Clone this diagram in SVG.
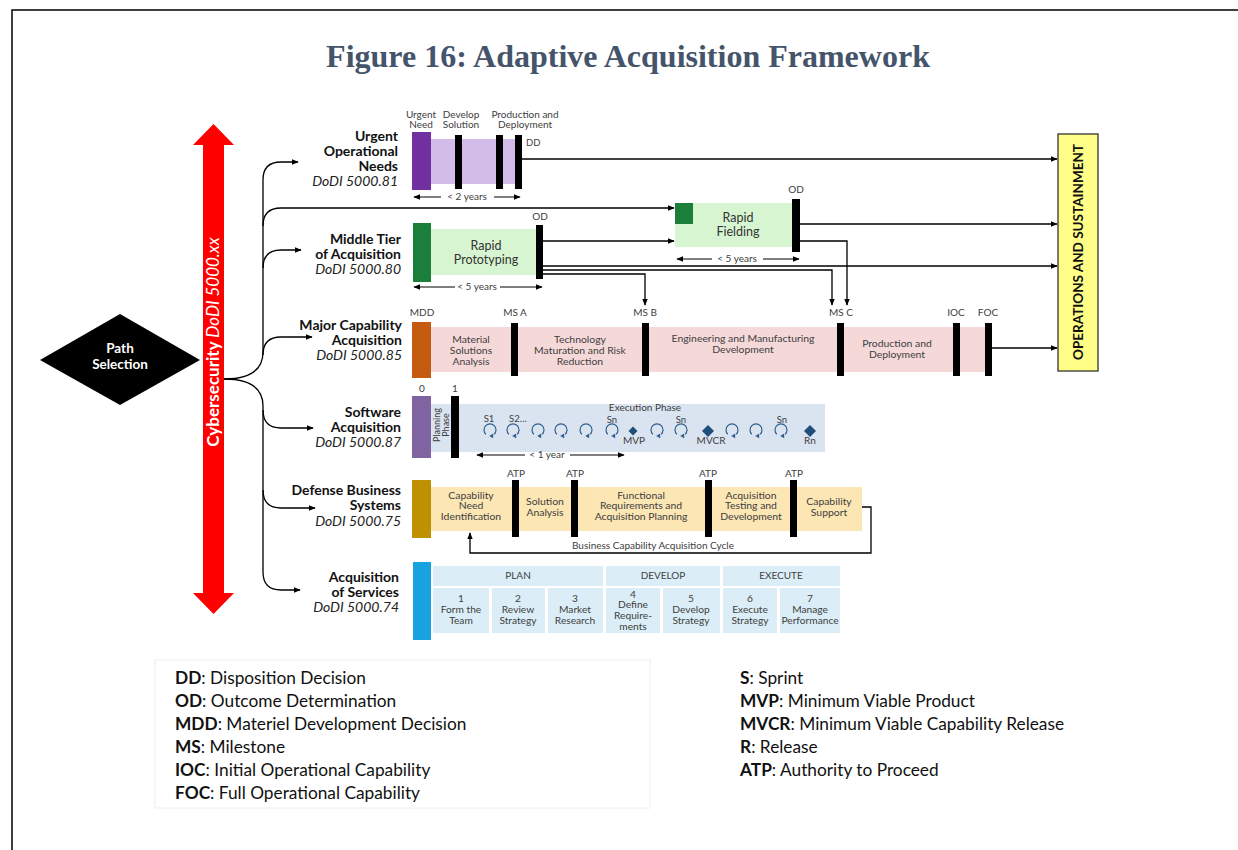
<svg xmlns="http://www.w3.org/2000/svg" width="1238" height="850" viewBox="0 0 1238 850">
<defs>
<style>
text{font-family:Lato,'Liberation Sans',sans-serif}
.lbl{font-size:14px;font-weight:bold;text-anchor:end;fill:#111}
.doc{font-style:italic;font-weight:normal;fill:#222}
.ph{font-size:10.4px;fill:#404040;text-anchor:middle}
.sm{font-size:10px;fill:#404040;text-anchor:middle}
.ce{font-size:10.2px;fill:#404040;text-anchor:middle}
.bar{fill:#000}
.ln{fill:none;stroke:#000;stroke-width:1.3}
.thin{fill:none;stroke:#000;stroke-width:1}
.cell{fill:#DBEEF7}
.leg{font-size:17.3px;fill:#111}
.spr{fill:none;stroke:#2F5F8F;stroke-width:1.2}
.dia{fill:#1F4E79}
</style>
<marker id="ah" viewBox="0 0 10 10" refX="9" refY="5" markerWidth="7" markerHeight="7" orient="auto-start-reverse" markerUnits="userSpaceOnUse">
<path d="M0,1 L10,5 L0,9 Z" fill="#000"/>
</marker>
<g id="sprint">
<path class="spr" d="M-4.2,4.2 A6,6 0 1 1 4.2,4.2"/>
<path d="M3.2,3.6 L3.2,8.2 L-0.8,5.9 Z" fill="#2F5F8F"/>
</g>
</defs>

<rect x="12" y="10" width="1240" height="860" fill="#fff" stroke="#000" stroke-width="1.5"/>

<text x="628" y="67" text-anchor="middle" style="font-family:'Liberation Serif',serif;font-size:32px;font-weight:bold;fill:#44546A">Figure 16: Adaptive Acquisition Framework</text>

<g id="cybersecurity">
<polygon points="213.5,124 234,145 224,145 224,593 234,593 213.5,614 193,593 203,593 203,145 193,145" fill="#F00"/>
<text transform="translate(219,342) rotate(-90)" text-anchor="middle" style="font-size:17px;fill:#fff"><tspan font-weight="bold">Cybersecurity </tspan><tspan font-style="italic">DoDI 5000.xx</tspan></text>
</g>

<g id="path-selection">
<polygon points="40,360 120,314 200,360 120,405" fill="#000"/>
<text x="120" y="353" text-anchor="middle" style="font-size:13.5px;font-weight:bold;fill:#fff">Path</text>
<text x="120" y="369" text-anchor="middle" style="font-size:13.5px;font-weight:bold;fill:#fff">Selection</text>
</g>

<g id="ops">
<rect x="1058" y="134" width="40" height="237" fill="#FFFF88" stroke="#333" stroke-width="1.3"/>
<text transform="translate(1083,252) rotate(-90)" text-anchor="middle" style="font-size:13.5px;font-weight:bold;fill:#111">OPERATIONS AND SUSTAINMENT</text>
</g>

<g id="urgent">
<text class="lbl" x="398" y="141">Urgent</text>
<text class="lbl" x="398" y="156">Operational</text>
<text class="lbl" x="398" y="171">Needs</text>
<text class="lbl doc" x="398" y="186">DoDI 5000.81</text>
<text class="sm" x="421" y="118">Urgent</text>
<text class="sm" x="421" y="128">Need</text>
<text class="sm" x="461" y="118">Develop</text>
<text class="sm" x="461" y="128">Solution</text>
<text class="sm" x="525" y="118">Production and</text>
<text class="sm" x="525" y="128">Deployment</text>
<rect x="431" y="139" width="88" height="45" fill="#D3BDE8"/>
<rect x="412" y="132" width="19" height="58" fill="#7030A0"/>
<rect class="bar" x="455" y="135" width="7" height="54"/>
<rect class="bar" x="496" y="135" width="7" height="54"/>
<rect class="bar" x="515" y="135" width="7" height="54"/>
<text x="526" y="146" style="font-size:9.5px;fill:#404040">DD</text>
<line class="thin" x1="414" y1="197" x2="441" y2="197" marker-start="url(#ah)"/>
<line class="thin" x1="494" y1="197" x2="520" y2="197" marker-end="url(#ah)"/>
<text class="sm" x="467" y="200">&lt; 2 years</text>
</g>

<g id="middle-tier">
<text class="lbl" x="401" y="244">Middle Tier</text>
<text class="lbl" x="401" y="259">of Acquisition</text>
<text class="lbl doc" x="401" y="274">DoDI 5000.80</text>
<rect x="431" y="229" width="106" height="46" fill="#D8F5D2"/>
<rect x="413" y="223" width="18" height="59" fill="#1B7F3B"/>
<rect class="bar" x="536" y="225" width="7" height="54"/>
<text x="540" y="220" class="sm">OD</text>
<text x="486" y="250" text-anchor="middle" style="font-size:12.5px;fill:#333">Rapid</text>
<text x="486" y="264" text-anchor="middle" style="font-size:12.5px;fill:#333">Prototyping</text>
<line class="thin" x1="414" y1="287" x2="455" y2="287" marker-start="url(#ah)"/>
<line class="thin" x1="500" y1="287" x2="542" y2="287" marker-end="url(#ah)"/>
<text class="sm" x="477" y="290">&lt; 5 years</text>
</g>

<g id="rapid-fielding">
<rect x="675" y="203" width="118" height="44" fill="#D8F5D2"/>
<rect x="675" y="203" width="18" height="21" fill="#1B7F3B"/>
<rect class="bar" x="792" y="199" width="8" height="53"/>
<text x="796" y="193" class="sm">OD</text>
<text x="738" y="222" text-anchor="middle" style="font-size:12.5px;fill:#333">Rapid</text>
<text x="738" y="236" text-anchor="middle" style="font-size:12.5px;fill:#333">Fielding</text>
<line class="thin" x1="677" y1="259" x2="712" y2="259" marker-start="url(#ah)"/>
<line class="thin" x1="763" y1="259" x2="799" y2="259" marker-end="url(#ah)"/>
<text class="sm" x="737" y="262">&lt; 5 years</text>
</g>

<g id="major-capability">
<text class="lbl" x="402" y="330">Major Capability</text>
<text class="lbl" x="402" y="345">Acquisition</text>
<text class="lbl doc" x="402" y="360">DoDI 5000.85</text>
<rect x="431" y="327" width="556" height="45" fill="#F5D9D9"/>
<rect x="412" y="322" width="19" height="56" fill="#C55A11"/>
<rect class="bar" x="511" y="323" width="7" height="53"/>
<rect class="bar" x="642" y="323" width="7" height="53"/>
<rect class="bar" x="837" y="323" width="7" height="53"/>
<rect class="bar" x="953" y="323" width="7" height="53"/>
<rect class="bar" x="985" y="323" width="7" height="53"/>
<text class="sm" x="422" y="316">MDD</text>
<text class="sm" x="515" y="316">MS A</text>
<text class="sm" x="645" y="316">MS B</text>
<text class="sm" x="841" y="316">MS C</text>
<text class="sm" x="956" y="316">IOC</text>
<text class="sm" x="988" y="316">FOC</text>
<text class="ph" x="471" y="343">Material</text>
<text class="ph" x="471" y="354">Solutions</text>
<text class="ph" x="471" y="365">Analysis</text>
<text class="ph" x="580" y="343">Technology</text>
<text class="ph" x="580" y="354">Maturation and Risk</text>
<text class="ph" x="580" y="365">Reduction</text>
<text class="ph" x="743" y="342">Engineering and Manufacturing</text>
<text class="ph" x="743" y="353">Development</text>
<text class="ph" x="897" y="347">Production and</text>
<text class="ph" x="897" y="358">Deployment</text>
</g>

<g id="software">
<text class="lbl" x="401" y="417">Software</text>
<text class="lbl" x="401" y="432">Acquisition</text>
<text class="lbl doc" x="401" y="447">DoDI 5000.87</text>
<rect x="431" y="404" width="394" height="48" fill="#DAE3F0"/>
<rect x="412" y="396" width="19" height="62" fill="#8064A2"/>
<rect class="bar" x="451" y="396" width="8" height="62"/>
<text class="sm" x="422" y="392">0</text>
<text class="sm" x="455" y="392">1</text>
<g transform="translate(441,425) rotate(-90)">
<text class="sm" x="0" y="-1.5" style="font-size:9px">Planning</text>
<text class="sm" x="0" y="7.5" style="font-size:9px">Phase</text>
</g>
<text class="sm" x="645" y="410.5">Execution Phase</text>
<use href="#sprint" x="490" y="430"/>
<use href="#sprint" x="513" y="430"/>
<use href="#sprint" x="538" y="430"/>
<use href="#sprint" x="561" y="430"/>
<use href="#sprint" x="586" y="430"/>
<use href="#sprint" x="612" y="430"/>
<use href="#sprint" x="657" y="430"/>
<use href="#sprint" x="681" y="430"/>
<use href="#sprint" x="732" y="430"/>
<use href="#sprint" x="756" y="430"/>
<use href="#sprint" x="781" y="430"/>
<polygon class="dia" points="633,426.5 637.5,431 633,435.5 628.5,431"/>
<polygon class="dia" points="708,425 714,431 708,437 702,431"/>
<polygon class="dia" points="810,425 816,431 810,437 804,431"/>
<text class="sm" x="489" y="422" style="font-size:9.5px">S1</text>
<text class="sm" x="518" y="422" style="font-size:9.5px">S2…</text>
<text class="sm" x="612" y="422.5" style="font-size:9.5px">Sn</text>
<text class="sm" x="681" y="422.5" style="font-size:9.5px">Sn</text>
<text class="sm" x="782" y="422.5" style="font-size:9.5px">Sn</text>
<text class="sm" x="634" y="444">MVP</text>
<text class="sm" x="711" y="444">MVCR</text>
<text class="sm" x="810" y="444">Rn</text>
<line class="thin" x1="477" y1="455" x2="525" y2="455" marker-start="url(#ah)"/>
<line class="thin" x1="570" y1="455" x2="624" y2="455" marker-end="url(#ah)"/>
<text class="sm" x="547" y="458">&lt; 1 year</text>
</g>

<g id="defense-business">
<text class="lbl" x="401" y="495">Defense Business</text>
<text class="lbl" x="401" y="510">Systems</text>
<text class="lbl doc" x="401" y="526">DoDI 5000.75</text>
<rect x="431" y="487" width="431" height="44" fill="#FCE6B4"/>
<rect x="412" y="480" width="19" height="58" fill="#BF9000"/>
<rect class="bar" x="512" y="480" width="7" height="57"/>
<rect class="bar" x="571" y="480" width="7" height="57"/>
<rect class="bar" x="705" y="480" width="7" height="57"/>
<rect class="bar" x="790" y="480" width="7" height="57"/>
<text class="sm" x="516" y="477">ATP</text>
<text class="sm" x="575" y="477">ATP</text>
<text class="sm" x="708" y="477">ATP</text>
<text class="sm" x="794" y="477">ATP</text>
<text class="ph" x="471" y="499">Capability</text>
<text class="ph" x="471" y="509">Need</text>
<text class="ph" x="471" y="520">Identification</text>
<text class="ph" x="545" y="505">Solution</text>
<text class="ph" x="545" y="516">Analysis</text>
<text class="ph" x="641" y="499">Functional</text>
<text class="ph" x="641" y="509">Requirements and</text>
<text class="ph" x="641" y="520">Acquisition Planning</text>
<text class="ph" x="751" y="499">Acquisition</text>
<text class="ph" x="751" y="509">Testing and</text>
<text class="ph" x="751" y="520">Development</text>
<text class="ph" x="829" y="505">Capability</text>
<text class="ph" x="829" y="516">Support</text>
<text class="sm" x="653" y="549">Business Capability Acquisition Cycle</text>
</g>

<g id="services">
<text class="lbl" x="399" y="582">Acquisition</text>
<text class="lbl" x="399" y="597">of Services</text>
<text class="lbl doc" x="399" y="612">DoDI 5000.74</text>
<rect x="413" y="562" width="18" height="78" fill="#18A2E0"/>
<rect class="cell" x="433" y="566" width="170" height="20"/>
<rect class="cell" x="606" y="566" width="114" height="20"/>
<rect class="cell" x="723" y="566" width="117" height="20"/>
<text class="sm" x="518" y="579">PLAN</text>
<text class="sm" x="663" y="579">DEVELOP</text>
<text class="sm" x="781" y="579">EXECUTE</text>
<rect class="cell" x="433" y="588" width="56" height="45"/>
<rect class="cell" x="492" y="588" width="53" height="45"/>
<rect class="cell" x="548" y="588" width="55" height="45"/>
<rect class="cell" x="606" y="588" width="54" height="45"/>
<rect class="cell" x="663" y="588" width="57" height="45"/>
<rect class="cell" x="723" y="588" width="54" height="45"/>
<rect class="cell" x="780" y="588" width="60" height="45"/>
<text class="ce" x="461" y="602">1</text><text class="ce" x="461" y="613">Form the</text><text class="ce" x="461" y="624">Team</text>
<text class="ce" x="518" y="602">2</text><text class="ce" x="518" y="613">Review</text><text class="ce" x="518" y="624">Strategy</text>
<text class="ce" x="575" y="602">3</text><text class="ce" x="575" y="613">Market</text><text class="ce" x="575" y="624">Research</text>
<text class="ce" x="633" y="597.5">4</text><text class="ce" x="633" y="608">Define</text><text class="ce" x="633" y="619">Require-</text><text class="ce" x="633" y="630">ments</text>
<text class="ce" x="691" y="602">5</text><text class="ce" x="691" y="613">Develop</text><text class="ce" x="691" y="624">Strategy</text>
<text class="ce" x="750" y="602">6</text><text class="ce" x="750" y="613">Execute</text><text class="ce" x="750" y="624">Strategy</text>
<text class="ce" x="810" y="602">7</text><text class="ce" x="810" y="613">Manage</text><text class="ce" x="810" y="624">Performance</text>
</g>

<g id="connectors">
<path class="ln" d="M224,379 C248,379 263,372 263,352 L263,180 Q263,162 281,162 L298,162" marker-end="url(#ah)"/>
<path class="ln" d="M263,226 Q263,208 281,208 L674,208" marker-end="url(#ah)"/>
<path class="ln" d="M263,268 Q263,250 281,250 L301,250" marker-end="url(#ah)"/>
<path class="ln" d="M263,355 Q263,337 281,337 L312,337" marker-end="url(#ah)"/>
<path class="ln" d="M224,379 C248,379 263,386 263,406 L263,572 Q263,590 281,590 L300,590" marker-end="url(#ah)"/>
<path class="ln" d="M263,410 Q263,428 281,428 L313,428" marker-end="url(#ah)"/>
<path class="ln" d="M263,490 Q263,508 281,508 L315,508" marker-end="url(#ah)"/>
<path class="ln" d="M522,159 L1057,159" marker-end="url(#ah)"/>
<path class="ln" d="M543,241 L674,241" marker-end="url(#ah)"/>
<path class="ln" d="M543,266 L1057,266" marker-end="url(#ah)"/>
<path class="ln" d="M543,270 L832,270 L832,305" marker-end="url(#ah)"/>
<path class="ln" d="M543,274 L645,274 L645,305" marker-end="url(#ah)"/>
<path class="ln" d="M800,224 L1057,224" marker-end="url(#ah)"/>
<path class="ln" d="M800,241 L847,241 L847,305" marker-end="url(#ah)"/>
<path class="ln" d="M992,348 L1057,348" marker-end="url(#ah)"/>
<path class="ln" d="M862,507 L871,507 L871,553 L470,553 L470,533" marker-end="url(#ah)"/>
</g>

<g id="legend">
<rect x="155" y="660" width="495" height="148" fill="none" stroke="#eee"/>
<text class="leg" x="175" y="684"><tspan font-weight="bold">DD</tspan>: Disposition Decision</text>
<text class="leg" x="175" y="707"><tspan font-weight="bold">OD</tspan>: Outcome Determination</text>
<text class="leg" x="175" y="730"><tspan font-weight="bold">MDD</tspan>: Materiel Development Decision</text>
<text class="leg" x="175" y="753"><tspan font-weight="bold">MS</tspan>: Milestone</text>
<text class="leg" x="175" y="776"><tspan font-weight="bold">IOC</tspan>: Initial Operational Capability</text>
<text class="leg" x="175" y="799"><tspan font-weight="bold">FOC</tspan>: Full Operational Capability</text>
<text class="leg" x="740" y="684"><tspan font-weight="bold">S</tspan>: Sprint</text>
<text class="leg" x="740" y="707"><tspan font-weight="bold">MVP</tspan>: Minimum Viable Product</text>
<text class="leg" x="740" y="730"><tspan font-weight="bold">MVCR</tspan>: Minimum Viable Capability Release</text>
<text class="leg" x="740" y="753"><tspan font-weight="bold">R</tspan>: Release</text>
<text class="leg" x="740" y="776"><tspan font-weight="bold">ATP</tspan>: Authority to Proceed</text>
</g>
</svg>
